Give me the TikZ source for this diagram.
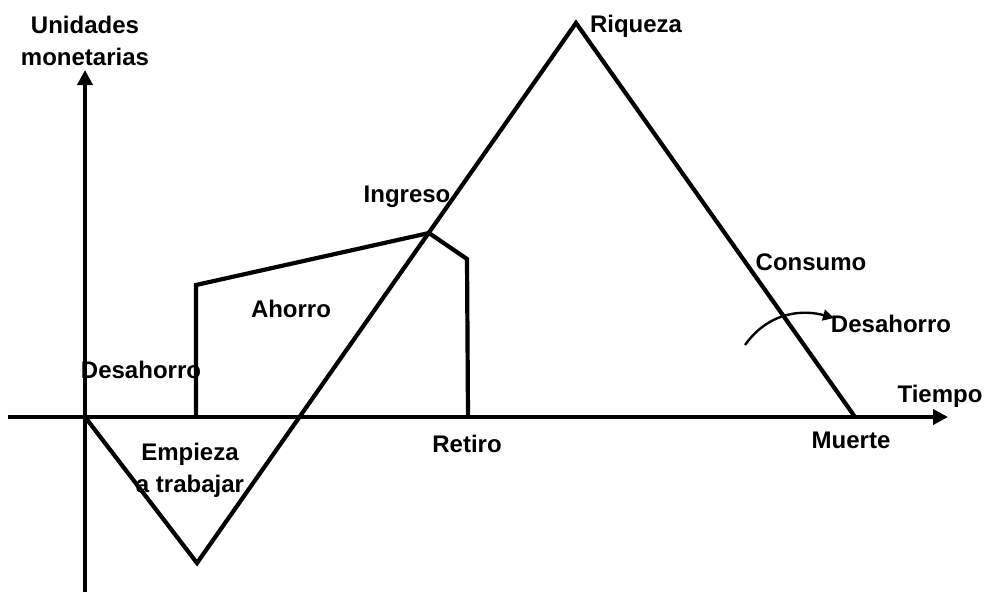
\documentclass[tikz,border=0pt]{standalone}
\usepackage{fontspec}
\setmainfont{Liberation Sans}
\usetikzlibrary{arrows.meta}
\begin{document}
\begin{tikzpicture}[x=1pt,y=-1pt,
  lbl/.style={font=\bfseries\fontsize{24}{32}\selectfont, inner sep=0pt, anchor=base, align=center},
  thick line/.style={line width=4.2pt, line join=miter},
  axis/.style={line width=4.2pt, -{Triangle[length=15pt,width=15pt]}},
  small arrow/.style={line width=2.4pt, -{Triangle[length=11pt,width=11pt]}}]
\useasboundingbox (0,0) rectangle (984,592);
% axes
\coordinate (xs) at (8,417);
\coordinate (xe) at (948,417);
\coordinate (ys) at (85,592);
\coordinate (ye) at (85,70);
\draw[axis] (xs) -- (xe);
\draw[axis] (ys) -- (ye);
% wealth
\coordinate (o) at (85,417);
\coordinate (w1) at (197,563);
\coordinate (w2) at (576,23);
\coordinate (w3) at (855,417);
\draw[thick line] (o) -- (w1) -- (w2) -- (w3);
% income
\coordinate (i0) at (196,417);
\coordinate (i1) at (196,285);
\coordinate (i2) at (429,233);
\coordinate (i3) at (467,259);
\coordinate (i4) at (468,417);
\draw[thick line] (i0) -- (i1) -- (i2) -- (i3) -- (i4);
% curved arrow
\coordinate (c0) at (745,345);
\coordinate (c1) at (834,318);
\draw[small arrow] (c0) .. controls (770,310) and (805,310) .. (c1);
% labels
\node[lbl] (um) at (85,65) {Unidades\\monetarias};
\node[lbl] (riq) at (636,32) {Riqueza};
\node[lbl] (ing) at (407,202) {Ingreso};
\node[lbl] (con) at (811,270) {Consumo};
\node[lbl] (des2) at (891,332) {Desahorro};
\node[lbl] (des1) at (141,378) {Desahorro};
\node[lbl] (aho) at (291,317) {Ahorro};
\node[lbl] (ret) at (467,452) {Retiro};
\node[lbl] (mue) at (851,448) {Muerte};
\node[lbl] (tie) at (940,402) {Tiempo};
\node[lbl] (emp) at (190,492) {Empieza\\a trabajar};
\end{tikzpicture}
\end{document}
